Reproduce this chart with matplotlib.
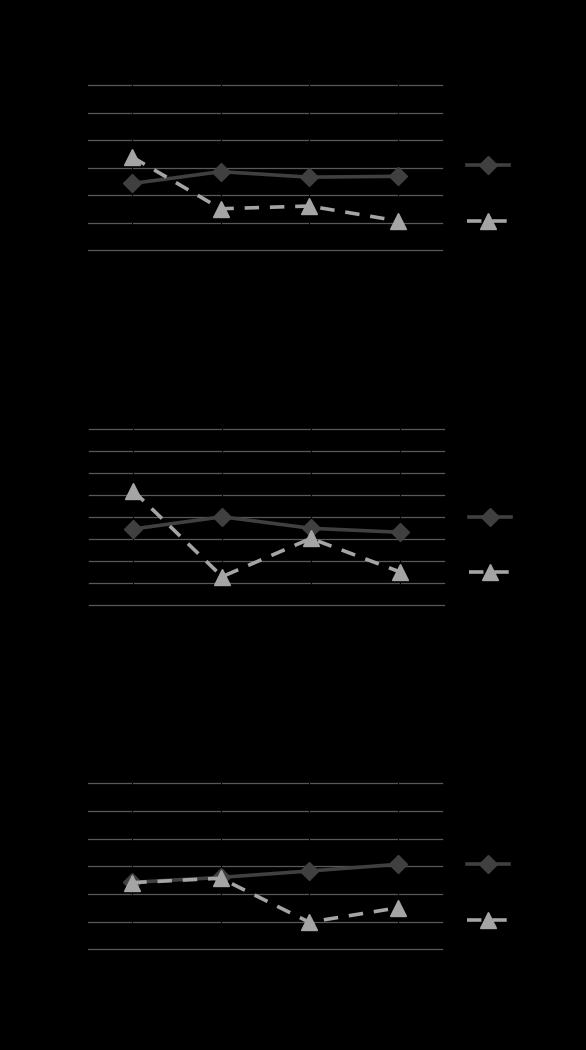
import matplotlib
matplotlib.use("Agg")
import matplotlib.pyplot as plt

# Category labels (drawn in black on black in the reference)
categories = ["1", "2", "3", "4"]

# Panel 1 (grid 0..6)
p1_series_a = [2.42, 2.85, 2.65, 2.68]
p1_series_b = [3.38, 1.50, 1.60, 1.06]

# Panel 2 (grid 0..8)
p2_series_a = [3.46, 4.01, 3.49, 3.31]
p2_series_b = [5.18, 1.30, 3.03, 1.52]

# Panel 3 (grid 0..6)
p3_series_a = [2.42, 2.60, 2.83, 3.07]
p3_series_b = [2.41, 2.57, 0.98, 1.50]

series_names = ["Series A", "Series B"]

DARK = "#404040"
LIGHT = "#a5a5a5"
GRID = "#595959"

panels = [
    # values, ymax, [left, bottom, width, height]
    (p1_series_a, p1_series_b, 6, [0.1502, 0.7619, 0.604, 0.1571]),
    (p2_series_a, p2_series_b, 8, [0.1519, 0.4235, 0.6058, 0.1682]),
    (p3_series_a, p3_series_b, 6, [0.1502, 0.0959, 0.604, 0.1581]),
]

fig = plt.figure(figsize=(5.86, 10.5), dpi=100, facecolor="black")

for a_vals, b_vals, ymax, rect in panels:
    ax = fig.add_axes(rect, facecolor="black")
    x = list(range(len(categories)))
    for yv in range(ymax + 1):
        ax.axhline(yv, color=GRID, linewidth=0.9, zorder=1, clip_on=False)
    for xv in x:
        ax.axvline(xv, color="black", linewidth=0.8, zorder=1.5)
    ax.plot(x, a_vals, color=DARK, linewidth=2.6, marker="D", markersize=9,
            label=series_names[0], zorder=3)
    ax.plot(x, b_vals, color=LIGHT, linewidth=2.6, linestyle=(0, (4, 3)),
            marker="^", markersize=11, label=series_names[1], zorder=4)
    ax.set_xlim(-0.5, len(categories) - 0.5)
    ax.set_ylim(0, ymax)
    ax.set_xticks(x)
    ax.set_xticklabels(categories, color="black")
    ax.set_yticks(range(ymax + 1))
    ax.tick_params(colors="black", length=0, labelsize=8)
    for s in ax.spines.values():
        s.set_visible(False)
    leg = ax.legend(loc="center left", bbox_to_anchor=(1.04, 0.34), frameon=False,
                    handlelength=3.3, labelspacing=3.4, fontsize=9)
    for t in leg.get_texts():
        t.set_color("black")

fig.savefig("out.png", dpi=100, facecolor="black")
